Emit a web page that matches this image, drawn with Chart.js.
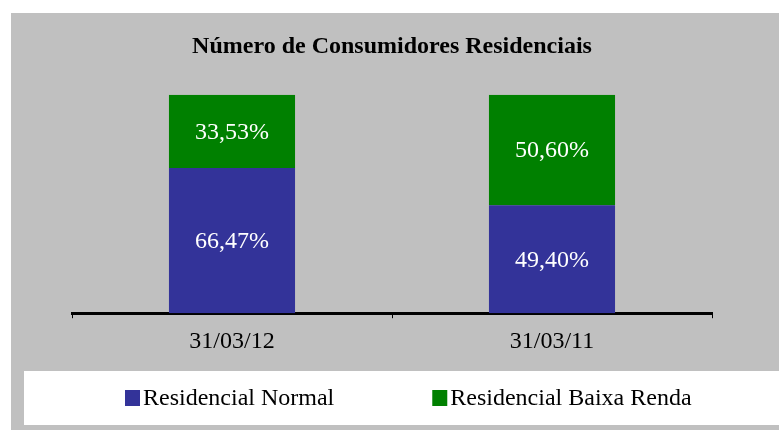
<!DOCTYPE html>
<html>
<head>
<meta charset="utf-8">
<script src="https://cdn.jsdelivr.net/npm/chart.js@4.4.1/dist/chart.umd.min.js"></script>
<style>
  html, body { margin: 0; padding: 0; background: #ffffff; }
  #wrap { position: relative; width: 779px; height: 430px; }
</style>
</head>
<body>
<div id="wrap"><canvas id="c" width="779" height="430"></canvas></div>
<script>
const categories = ['31/03/12', '31/03/11'];
const seriesNames = ['Residencial Normal', 'Residencial Baixa Renda'];
const residencialNormal = [66.47, 49.40];
const residencialBaixaRenda = [33.53, 50.60];
const chartTitle = 'Número de Consumidores Residenciais';

const SERIF = '"Liberation Serif", "Times New Roman", serif';
const fmt = v => v.toFixed(2).replace('.', ',') + '%';

const backgroundPlugin = {
  id: 'bg',
  beforeDraw(chart) {
    const ctx = chart.ctx;
    ctx.save();
    ctx.fillStyle = '#c0c0c0';
    ctx.fillRect(11, 13, chart.width - 11, chart.height - 13);
    ctx.fillStyle = '#ffffff';
    ctx.fillRect(24, 371, chart.width - 24, 54);
    ctx.restore();
  }
};

const valueLabelPlugin = {
  id: 'valueLabels',
  afterDatasetsDraw(chart) {
    const ctx = chart.ctx;
    ctx.save();
    ctx.fillStyle = '#ffffff';
    ctx.font = '24px ' + SERIF;
    ctx.textAlign = 'center';
    ctx.textBaseline = 'middle';
    chart.data.datasets.forEach((ds, di) => {
      const meta = chart.getDatasetMeta(di);
      meta.data.forEach((bar, i) => {
        const p = bar.getProps(['x', 'y', 'base'], true);
        ctx.fillText(fmt(ds.data[i]), p.x, (p.y + p.base) / 2 + 1);
      });
    });
    ctx.restore();
  }
};

const legendPlugin = {
  id: 'customLegend',
  afterDraw(chart) {
    const ctx = chart.ctx;
    ctx.save();
    ctx.font = '24px ' + SERIF;
    ctx.textAlign = 'left';
    ctx.textBaseline = 'middle';
    let x = 125;
    const cy = 398;
    chart.data.datasets.forEach((ds) => {
      ctx.fillStyle = ds.backgroundColor;
      ctx.fillRect(x, cy - 8, 15, 16);
      ctx.fillStyle = '#000000';
      ctx.fillText(ds.label, x + 18, cy + 1);
      x += 18 + ctx.measureText(ds.label).width + 98;
    });
    ctx.restore();
  }
};

new Chart(document.getElementById('c'), {
  type: 'bar',
  data: {
    labels: categories,
    datasets: [
      { label: seriesNames[0], data: residencialNormal, backgroundColor: '#333399', borderWidth: 0 },
      { label: seriesNames[1], data: residencialBaixaRenda, backgroundColor: '#008000', borderWidth: 0 }
    ]
  },
  options: {
    responsive: false,
    animation: false,
    devicePixelRatio: 1,
    layout: { padding: { left: 72, right: 67, top: 0, bottom: 65 } },
    datasets: { bar: { barPercentage: 0.394, categoryPercentage: 1 } },
    plugins: {
      legend: { display: false },
      tooltip: { enabled: false },
      title: {
        display: true,
        text: chartTitle,
        color: '#000000',
        font: { family: SERIF, size: 24, weight: 'bold', lineHeight: 1.2 },
        padding: { top: 32, bottom: 34 }
      }
    },
    scales: {
      x: {
        stacked: true,
        grid: { display: true, drawOnChartArea: false, drawTicks: true, tickLength: 5, color: '#000000', lineWidth: 1 },
        border: { display: true, color: '#000000', width: 3 },
        ticks: { color: '#000000', font: { family: SERIF, size: 24 }, padding: 9 }
      },
      y: {
        stacked: true,
        display: false,
        min: 0,
        max: 100
      }
    }
  },
  plugins: [backgroundPlugin, valueLabelPlugin, legendPlugin]
});
</script>
</body>
</html>
